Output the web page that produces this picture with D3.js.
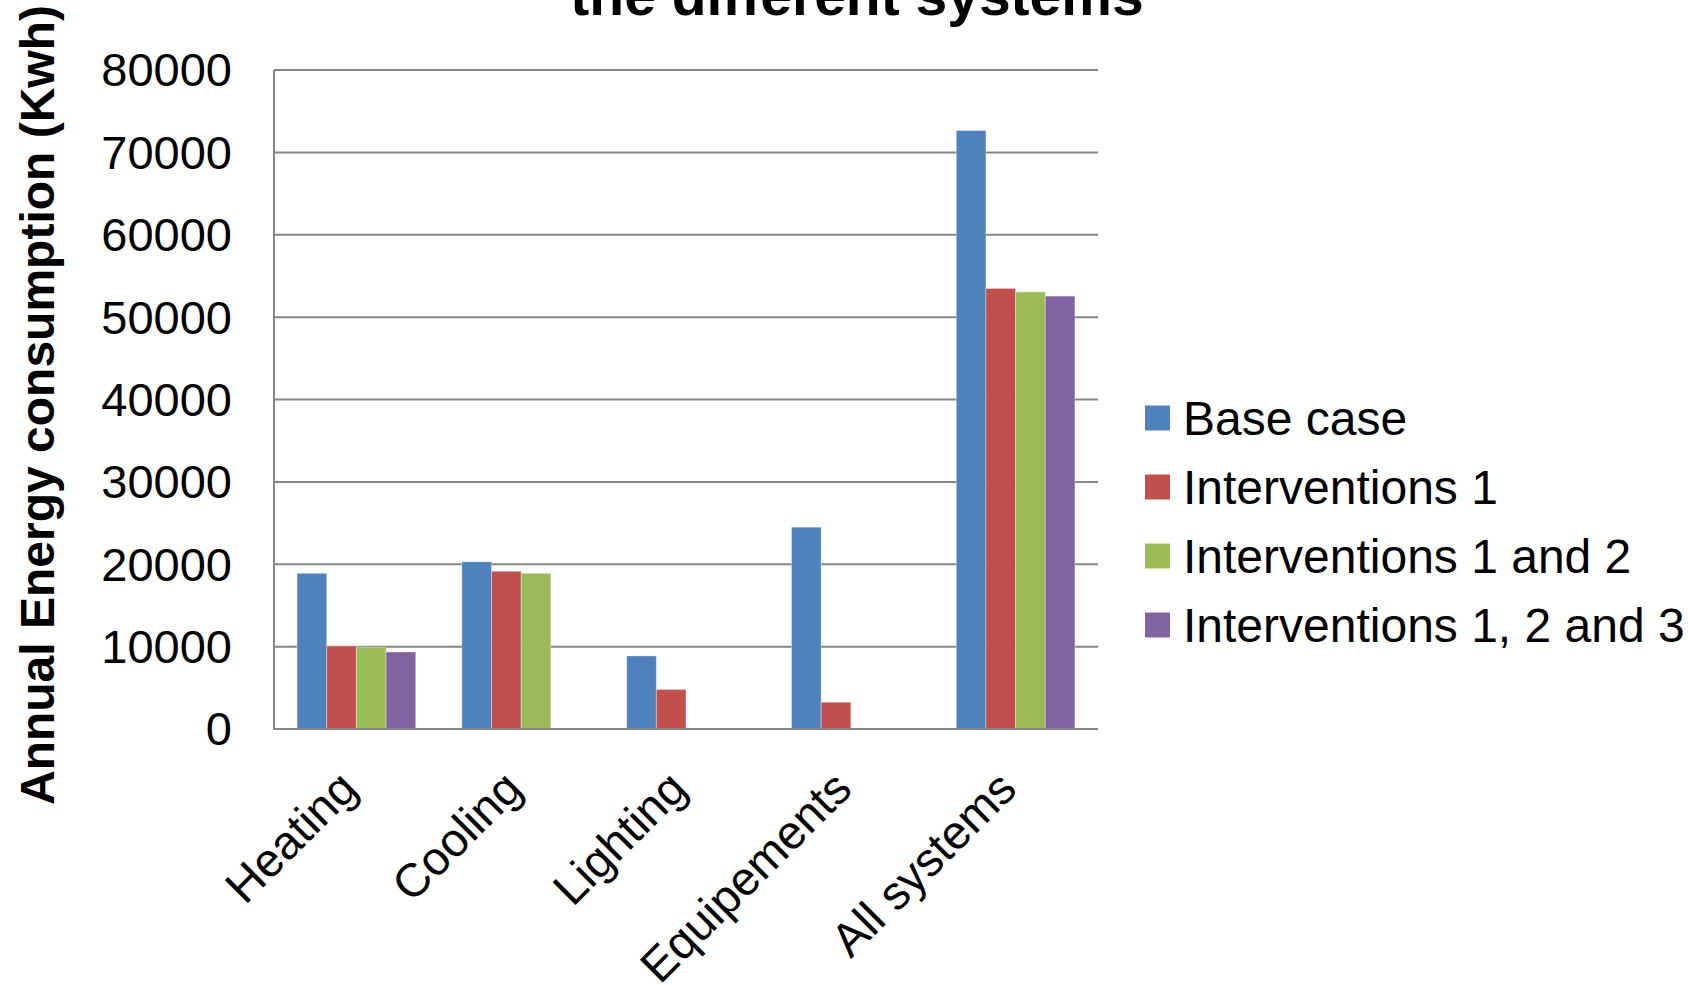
<!DOCTYPE html>
<html>
<head>
<meta charset="utf-8">
<script src="https://cdn.jsdelivr.net/npm/d3@7"></script>
<style>
	body{margin:0;background:#fff;}
	text{font-family:"Liberation Sans", Arial, Helvetica, sans-serif;}
</style>
</head>
<body>
<div id="chart"></div>
<script>
// categories and series
const categories = ['Heating', 'Cooling', 'Lighting', 'Equipements', 'All systems'];
const seriesNames = ['Base case', 'Interventions 1', 'Interventions 1 and 2', 'Interventions 1, 2 and 3'];
const baseCase = [18900, 20300, 8870, 24500, 72650];
const interventions1 = [10080, 19150, 4800, 3250, 53480];
const interventions12 = [9960, 18900, null, null, 53060];
const interventions123 = [9350, null, null, null, 52550];
const yTicks = [0, 10000, 20000, 30000, 40000, 50000, 60000, 70000, 80000];
const colors = ['#4F81BD', '#C0504D', '#9BBB59', '#8064A2'];

function BarChart(divElement, title, yTitle){
	let wSvg = 1688,
		hSvg = 985,
		plot = {left:274, top:70, right:1098, bottom:729},
		seriesArr = [baseCase, interventions1, interventions12, interventions123];

	let svgElem = divElement.append('svg').attr('width', wSvg).attr('height', hSvg);

	let scaleX = d3.scaleBand().domain(categories).range([plot.left, plot.right]).padding(0);
	let bw = scaleX.bandwidth();
	let gap = bw * 0.28;
	let scaleSeries = d3.scaleBand().domain(seriesNames).range([gap/2, bw - gap/2]).padding(0);
	let scaleY = d3.scaleLinear().domain([0, 80000]).range([plot.bottom, plot.top]);

	// gridlines
	svgElem.append('g')
		.selectAll('line')
		.data(yTicks.slice(1))
		.join('line')
		.attr('x1', plot.left).attr('x2', plot.right)
		.attr('y1', d => scaleY(d)).attr('y2', d => scaleY(d))
		.attr('stroke', '#858585').attr('stroke-width', 2);

	// bars
	seriesArr.forEach(function(vals, si){
		vals.forEach(function(v, ci){
			if(v === null){ return; }
			svgElem.append('rect')
				.attr('x', scaleX(categories[ci]) + scaleSeries(seriesNames[si]))
				.attr('y', scaleY(v))
				.attr('width', scaleSeries.bandwidth())
				.attr('height', scaleY(0) - scaleY(v))
				.attr('fill', colors[si])
				.attr('stroke', 'rgba(255,255,255,0.35)')
				.attr('stroke-width', 1);
		});
	});

	// axes lines
	svgElem.append('line')
		.attr('x1', plot.left).attr('x2', plot.left)
		.attr('y1', plot.top).attr('y2', plot.bottom)
		.attr('stroke', '#858585').attr('stroke-width', 2);
	svgElem.append('line')
		.attr('x1', plot.left - 1).attr('x2', plot.right)
		.attr('y1', plot.bottom).attr('y2', plot.bottom)
		.attr('stroke', '#858585').attr('stroke-width', 2);

	// y tick labels
	svgElem.append('g')
		.selectAll('text')
		.data(yTicks)
		.join('text')
		.attr('x', 232)
		.attr('y', d => scaleY(d))
		.attr('dy', '0.35em')
		.attr('text-anchor', 'end')
		.attr('font-size', 47)
		.text(d => d);

	// x category labels
	categories.forEach(function(c){
		let cx = scaleX(c) + bw/2 - 20;
		svgElem.append('text')
			.attr('transform', 'translate(' + cx + ',' + (plot.bottom + 39) + ') rotate(-45)')
			.attr('text-anchor', 'end')
			.attr('dy', '0.7em')
			.attr('font-size', 47)
			.text(c);
	});

	// y axis title
	svgElem.append('text')
		.attr('transform', 'translate(54,' + 405 + ') rotate(-90)')
		.attr('text-anchor', 'middle')
		.attr('font-size', 48)
		.attr('font-weight', 'bold')
		.text(yTitle);

	// title (second line only is inside the picture)
	svgElem.append('text')
		.attr('x', 857)
		.attr('y', 15)
		.attr('text-anchor', 'middle')
		.attr('font-size', 57)
		.attr('font-weight', 'bold')
		.text(title);

	// legend
	let legend = svgElem.append('g');
	seriesNames.forEach(function(s, si){
		let ly = 418 + si * 69;
		legend.append('rect')
			.attr('x', 1145).attr('y', ly - 12.5)
			.attr('width', 25).attr('height', 25)
			.attr('fill', colors[si]);
		legend.append('text')
			.attr('x', 1183).attr('y', ly)
			.attr('dy', '0.35em')
			.attr('font-size', 48)
			.text(s);
	});
}

BarChart(d3.select('#chart'), 'the different systems', 'Annual Energy consumption (Kwh)');
</script>
</body>
</html>
